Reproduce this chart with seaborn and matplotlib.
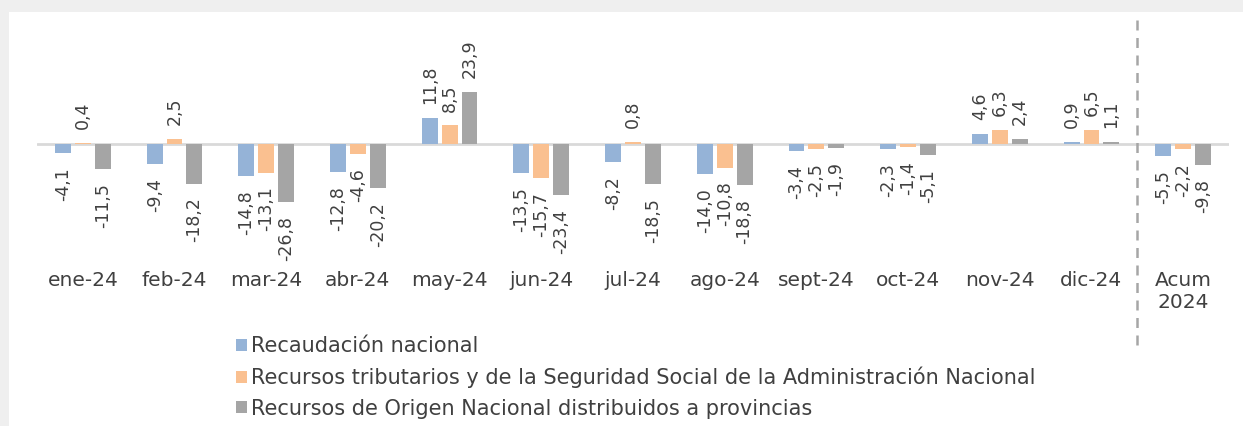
import seaborn as sns
import matplotlib.pyplot as plt
import pandas as pd
from matplotlib.patches import Rectangle

categories = ["ene-24", "feb-24", "mar-24", "abr-24", "may-24", "jun-24", "jul-24",
              "ago-24", "sept-24", "oct-24", "nov-24", "dic-24", "Acum\n2024"]
recaudacion = [-4.1, -9.4, -14.8, -12.8, 11.8, -13.5, -8.2, -14.0, -3.4, -2.3, 4.6, 0.9, -5.5]
tributarios = [0.4, 2.5, -13.1, -4.6, 8.5, -15.7, 0.8, -10.8, -2.5, -1.4, 6.3, 6.5, -2.2]
provincias = [-11.5, -18.2, -26.8, -20.2, 23.9, -23.4, -18.5, -18.8, -1.9, -5.1, 2.4, 1.1, -9.8]
series_names = ["Recaudación nacional",
                "Recursos tributarios y de la Seguridad Social de la Administración Nacional",
                "Recursos de Origen Nacional distribuidos a provincias"]
colors = ["#95b3d7", "#fac090", "#a5a5a5"]

rows = []
for name, vals in zip(series_names, [recaudacion, tributarios, provincias]):
    for cat, v in zip(categories, vals):
        rows.append({"mes": cat, "serie": name, "valor": v})
df = pd.DataFrame(rows)

sns.set_style("white")
plt.rcParams['font.family'] = ['DejaVu Sans']
txt = "#404040"

W, H = 1243, 426
fig = plt.figure(figsize=(W / 100, H / 100), dpi=100, facecolor="#efefef")
fig.patches.append(Rectangle((9 / W, 0), 1, 1 - 12 / H, transform=fig.transFigure,
                             facecolor="white", edgecolor="none", zorder=-5))

ax_l, ax_r, ax_t, ax_b = 37, 1229, 16, 268
ax = fig.add_axes([ax_l / W, 1 - ax_b / H, (ax_r - ax_l) / W, (ax_b - ax_t) / H])
ax.set_facecolor("none")
ax.set_zorder(2)

sns.barplot(data=df, x="mes", y="valor", hue="serie", palette=colors,
            width=0.65, gap=0.2, ax=ax, legend=True, saturation=1, linewidth=0)

for cont in ax.containers:
    labels = [f"{v:.1f}".replace(".", ",") for v in cont.datavalues]
    ax.bar_label(cont, labels=labels, rotation=90, padding=10, fontsize=12.5, color=txt)

ax.axhline(0, color="#d9d9d9", lw=2, zorder=0.5)
ax.set_xlim(-0.5, 12.5)
ax.set_ylim(-56.9, 58.7)
ax.set_yticks([])
ax.set_xlabel("")
ax.set_ylabel("")
ax.tick_params(axis="x", length=0, pad=2, labelsize=14.5, labelcolor=txt)
for s in ax.spines.values():
    s.set_visible(False)

ax.plot([11.5, 11.5], [0.984, -0.313], transform=ax.get_xaxis_transform(),
        clip_on=False, color="#a6a6a6", lw=1.8, ls=(0, (4, 3)))

handles, labels = ax.get_legend_handles_labels()
ax.get_legend().remove()
leg = fig.legend(handles, labels, loc="upper left", bbox_to_anchor=(226 / W, 1 - 326 / H),
                 frameon=False, fontsize=15, labelcolor=txt, handlelength=0.5,
                 handleheight=0.5, handletextpad=0.2, labelspacing=0.5, borderpad=0)
leg.set_zorder(3)

fig.savefig("out.png", dpi=100, facecolor=fig.get_facecolor())
